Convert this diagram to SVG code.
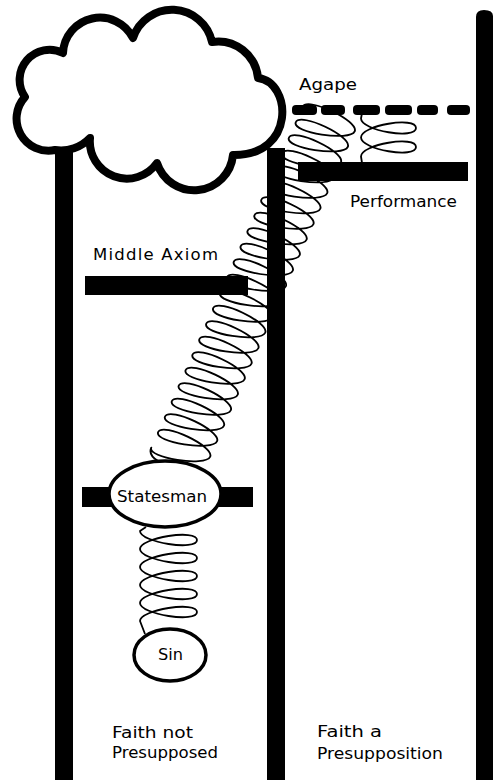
<svg xmlns="http://www.w3.org/2000/svg" width="493" height="780" viewBox="0 0 493 780">
<style>
.spring{fill:none;stroke:#000;stroke-width:1.8;stroke-linejoin:round}
.bar{fill:#000}
.lbl{font-family:"DejaVu Sans","Liberation Sans",Arial,sans-serif;font-size:16.5px;fill:#000}
.node{fill:#fff;stroke:#000;stroke-width:3.5}
</style>
<rect width="493" height="780" fill="#fff"/>
<g id="connectors">
  <path id="spring-sin-statesman" class="spring" d="M 146,527 L 140,531
   c 0,11.33 57,20.33 57,9 c 0,-11.33 -57,-2.33 -57,9
   c 0,11.33 57,20.33 57,9 c 0,-11.33 -57,-2.33 -57,9
   c 0,11.33 57,20.33 57,9 c 0,-11.33 -57,-2.33 -57,9
   c 0,11.33 57,20.33 57,9 c 0,-11.33 -57,-2.33 -57,9
   c 0,11.33 57,20.33 57,9 c 0,-11.33 -57,-2.33 -57,9
   L 145,634"/>
  <path id="spring-statesman-agape" class="spring" transform="matrix(0.956,0.292,-0.406,0.914,179,456)" d="M -17.3,11 Q -29,8 -29,0
   c 0,11.33 58,2.855 58,-8.475 c 0,-11.33 -58,-19.805 -58,-8.475
   c 0,11.33 58,2.855 58,-8.475 c 0,-11.33 -58,-19.805 -58,-8.475
   c 0,11.33 58,2.855 58,-8.475 c 0,-11.33 -58,-19.805 -58,-8.475
   c 0,11.33 58,2.855 58,-8.475 c 0,-11.33 -58,-19.805 -58,-8.475
   c 0,11.33 58,2.855 58,-8.475 c 0,-11.33 -58,-19.805 -58,-8.475
   c 0,11.33 58,2.855 58,-8.475 c 0,-11.33 -58,-19.805 -58,-8.475
   c 0,11.33 58,2.855 58,-8.475 c 0,-11.33 -58,-19.805 -58,-8.475
   c 0,11.33 58,2.855 58,-8.475 c 0,-11.33 -58,-19.805 -58,-8.475
   c 0,11.33 58,2.855 58,-8.475 c 0,-11.33 -58,-19.805 -58,-8.475
   c 0,11.33 58,2.855 58,-8.475 c 0,-11.33 -58,-19.805 -58,-8.475
   c 0,11.33 58,2.855 58,-8.475 c 0,-11.33 -58,-19.805 -58,-8.475
   c 0,11.33 58,2.855 58,-8.475 c 0,-11.33 -58,-19.805 -58,-8.475
   c 0,11.33 58,2.855 58,-8.475 c 0,-11.33 -58,-19.805 -58,-8.475
   c 0,11.33 58,2.855 58,-8.475 c 0,-11.33 -58,-19.805 -58,-8.475
   c 0,11.33 58,2.855 58,-8.475 c 0,-11.33 -58,-19.805 -58,-8.475
   c 0,11.33 58,2.855 58,-8.475 c 0,-11.33 -58,-19.805 -58,-8.475
   c 0,11.33 58,2.855 58,-8.475 c 0,-11.33 -58,-19.805 -58,-8.475
   c 0,11.33 58,2.855 58,-8.475 c 0,-11.33 -58,-19.805 -58,-8.475
   c 0,11.33 58,2.855 58,-8.475 c 0,-11.33 -58,-19.805 -58,-8.475
   c 0,11.33 58,2.855 58,-8.475 c 0,-11.33 -58,-19.805 -58,-8.475
   c 0,11.33 58,2.855 58,-8.475 c 0,-11.33 -58,-19.805 -58,-8.475
   c 0,11.33 58,2.855 58,-8.475 c 0,-11.33 -58,-19.805 -58,-8.475"/>
  <path id="spring-performance-agape" class="spring" d="M 362,113 L 361,118.5
   c 0,12 55,21.5 55,9.5 c 0,-12 -55,-2.5 -55,9.5
   c 0,12 55,21.5 55,9.5 c 0,-12 -55,-2.5 -55,9.5
   L 362,163"/>
</g>
<g id="pillars">
  <rect id="pillar-left" x="55" y="148" width="18" height="632" class="bar"/>
  <rect id="pillar-middle" x="267" y="148" width="18" height="632" class="bar"/>
  <path id="pillar-right" d="M476,780 V17 Q476,10 484,10 Q493,10 493,16 V780 Z" class="bar"/>
</g>
<g id="cloud">
  <path d="M 55,150 A 32 32 0 0 1 25,97 A 30 30 0 0 1 63,53 A 37 37 0 0 1 133,38 A 41 41 0 0 1 212,42 A 40 40 0 0 1 258,78 C 292,82 296,156 233,155 A 39 39 0 0 1 157,163 A 37 37 0 0 1 90,138 A 40 40 0 0 1 55,150 Z" fill="#fff" stroke="#000" stroke-width="8" stroke-linejoin="round"/>
</g>
<g id="agape">
  <rect x="292" y="105" width="25" height="10" rx="4"/>
  <rect x="321" y="105" width="24" height="10" rx="4"/>
  <rect x="353" y="105" width="27" height="10" rx="4"/>
  <rect x="385" y="105" width="27" height="10" rx="4"/>
  <rect x="417" y="105" width="21" height="10" rx="4"/>
  <rect x="447" y="105" width="23" height="10" rx="4"/>
  <text class="lbl" x="299" y="90" textLength="58" lengthAdjust="spacingAndGlyphs">Agape</text>
</g>
<g id="performance">
  <rect x="298" y="162" width="170" height="19" class="bar"/>
  <text class="lbl" x="350" y="207" textLength="107" lengthAdjust="spacingAndGlyphs">Performance</text>
</g>
<g id="middle-axiom">
  <rect x="85" y="276" width="163" height="19" class="bar"/>
  <text class="lbl" x="93" y="260" textLength="125" lengthAdjust="spacing">Middle Axiom</text>
</g>
<g id="statesman">
  <rect x="82" y="487" width="40" height="20" class="bar"/>
  <rect x="210" y="487" width="43" height="20" class="bar"/>
  <ellipse cx="165" cy="494" rx="56" ry="33" class="node"/>
  <text class="lbl" x="117" y="502" textLength="90" lengthAdjust="spacingAndGlyphs">Statesman</text>
</g>
<g id="sin">
  <ellipse cx="170" cy="655" rx="36" ry="26" class="node"/>
  <text class="lbl" x="158" y="660" textLength="25" lengthAdjust="spacingAndGlyphs">Sin</text>
</g>
<g id="faith-not-presupposed">
  <text class="lbl" x="112" y="738" textLength="81" lengthAdjust="spacingAndGlyphs">Faith not</text>
  <text class="lbl" x="112" y="758" textLength="106" lengthAdjust="spacingAndGlyphs">Presupposed</text>
</g>
<g id="faith-a-presupposition">
  <text class="lbl" x="317" y="737" textLength="65" lengthAdjust="spacingAndGlyphs">Faith a</text>
  <text class="lbl" x="317" y="759" textLength="126" lengthAdjust="spacingAndGlyphs">Presupposition</text>
</g>
</svg>
